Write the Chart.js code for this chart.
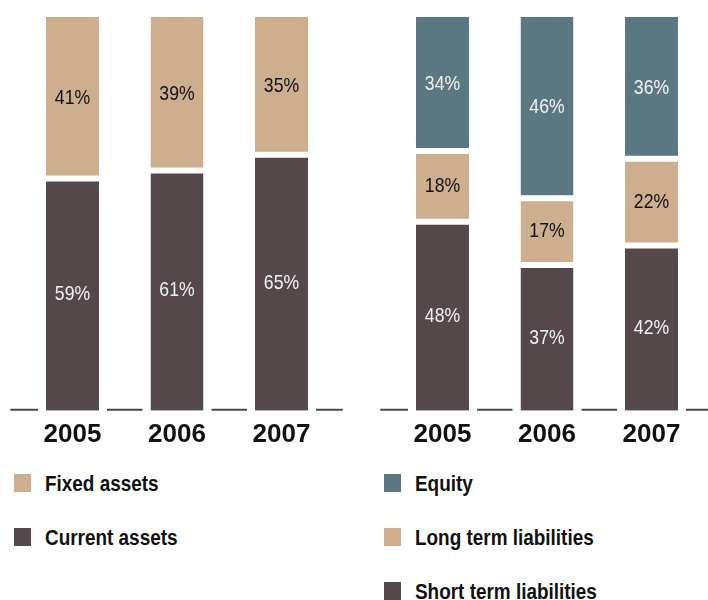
<!DOCTYPE html>
<html>
<head>
<meta charset="utf-8">
<script src="https://cdn.jsdelivr.net/npm/chart.js@4.4.1/dist/chart.umd.min.js"></script>
<style>
  html, body { margin:0; padding:0; background:#fff; overflow:hidden; }
  #wrap { position:relative; width:708px; height:600px; overflow:hidden; }
  canvas { position:absolute; top:0; }
  .legend { position:absolute; }
  .item { display:flex; align-items:flex-start; height:18px; margin-bottom:36px; }
  .sw { width:17px; height:18px; flex:none; }
  .tx { margin-left:14px; font-family:"Liberation Sans Narrow","Liberation Sans",Arial,sans-serif; font-weight:bold; font-size:22px; line-height:18px; color:#111; position:relative; top:1px; white-space:nowrap; display:inline-block; transform:scaleX(0.86); transform-origin:left center; }
</style>
</head>
<body>
<div id="wrap">
  <canvas id="c1" width="354" height="458" style="left:0"></canvas>
  <canvas id="c2" width="338" height="458" style="left:370px"></canvas>
  <div class="legend" id="leg1" style="left:14px;top:474px"></div>
  <div class="legend" id="leg2" style="left:384px;top:474px"></div>
</div>
<script>
// ---- data ----
const years = ['2005', '2006', '2007'];
const currentAssets = [59, 61, 65];
const fixedAssets = [41, 39, 35];
const shortTermLiabilities = [48, 37, 42];
const longTermLiabilities = [18, 17, 22];
const equity = [34, 46, 36];

const DARK = '#54484a', TAN = '#cdae8f', BLUE = '#5b7782';

const segLabels = {
  id: 'segLabels',
  afterDatasetsDraw(chart) {
    const ctx = chart.ctx;
    chart.data.datasets.forEach((ds, i) => {
      const meta = chart.getDatasetMeta(i);
      meta.data.forEach((bar, j) => {
        const p = bar.getProps(['x', 'y', 'base'], true);
        ctx.save();
        ctx.translate(p.x, (p.y + p.base) / 2);
        ctx.scale(0.84, 1);
        ctx.font = '21px "Liberation Sans", Arial, sans-serif';
        ctx.fillStyle = ds.labelColor;
        ctx.textAlign = 'center';
        ctx.textBaseline = 'middle';
        ctx.fillText(ds.data[j] + '%', 0, 0);
        ctx.restore();
      });
    });
  }
};

const baseline = {
  id: 'baseline',
  beforeDatasetsDraw(chart) {
    const { ctx, chartArea } = chart;
    const bars = chart.getDatasetMeta(0).data;
    const gap = 8;
    const yLine = chartArea.bottom - 1;
    let start = chartArea.left - 10;
    ctx.save();
    ctx.strokeStyle = '#4a4a4a';
    ctx.lineWidth = 2;
    ctx.beginPath();
    bars.forEach(b => {
      const half = b.width / 2;
      ctx.moveTo(start, yLine);
      ctx.lineTo(b.x - half - gap, yLine);
      start = b.x + half + gap;
    });
    ctx.moveTo(start, yLine);
    ctx.lineTo(chartArea.right + 9, yLine);
    ctx.stroke();
    ctx.restore();
  }
};

function seg(label, data, color, labelColor, bw) {
  return {
    label, data, backgroundColor: color, labelColor,
    borderColor: '#ffffff', borderSkipped: false, inflateAmount: 0,
    borderWidth: Object.assign({ top: 0, bottom: 0, left: 0, right: 0 }, bw),
    barPercentage: 0.507, categoryPercentage: 1
  };
}

function makeChart(id, datasets, padRight) {
  return new Chart(document.getElementById(id), {
    type: 'bar',
    data: { labels: years, datasets },
    options: {
      responsive: false,
      animation: false,
      layout: { padding: { top: 17, left: 20.25, right: padRight, bottom: 0 } },
      plugins: { legend: { display: false }, tooltip: { enabled: false } },
      scales: {
        x: {
          stacked: true, offset: true,
          grid: { display: false, drawTicks: false },
          border: { display: false },
          ticks: { color: '#111', padding: 8, font: { family: '"Liberation Sans", Arial, sans-serif', size: 26, weight: 'bold' } }
        },
        y: { stacked: true, display: false, min: 0, max: 100 }
      }
    },
    plugins: [baseline, segLabels]
  });
}

const ch1 = makeChart('c1', [
  seg('Current assets', currentAssets, DARK, '#f2f2f2', { top: 3 }),
  seg('Fixed assets', fixedAssets, TAN, '#111', { bottom: 3 })
], 20.25);

const ch2 = makeChart('c2', [
  seg('Short term liabilities', shortTermLiabilities, DARK, '#f2f2f2', { top: 3 }),
  seg('Long term liabilities', longTermLiabilities, TAN, '#111', { top: 3, bottom: 3 }),
  seg('Equity', equity, BLUE, '#f2f2f2', { bottom: 3 })
], 4.25);

function buildLegend(chart, elId) {
  const el = document.getElementById(elId);
  chart.data.datasets.slice().reverse().forEach(ds => {
    const item = document.createElement('div');
    item.className = 'item';
    const sw = document.createElement('span');
    sw.className = 'sw';
    sw.style.background = ds.backgroundColor;
    const tx = document.createElement('span');
    tx.className = 'tx';
    tx.textContent = ds.label;
    item.appendChild(sw);
    item.appendChild(tx);
    el.appendChild(item);
  });
}
buildLegend(ch1, 'leg1');
buildLegend(ch2, 'leg2');
</script>
</body>
</html>
